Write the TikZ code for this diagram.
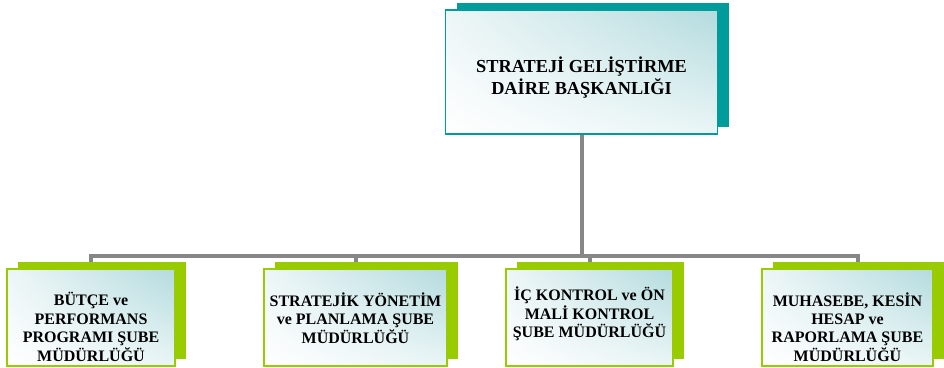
\documentclass[tikz,border=0pt]{standalone}
\usepackage{fontspec}
\setmainfont{Liberation Serif}
\usetikzlibrary{backgrounds,shadings}
\definecolor{tealc}{HTML}{009C9C}
\definecolor{greenc}{HTML}{99CC00}
\definecolor{linec}{HTML}{878787}
\definecolor{shadeUR}{HTML}{B3DBDE}
\definecolor{shadeUL}{HTML}{EDF6F7}
\definecolor{shadeLR}{HTML}{EAF5F6}
\begin{document}
\begin{tikzpicture}[x=1pt,y=-1pt,
  shadowbox/.style={draw=none,inner sep=0pt,minimum height=#1},
  frontbox/.style={line width=1.8pt,inner sep=0pt,minimum height=#1,
    upper right=shadeUR,upper left=shadeUL,lower left=white,lower right=shadeLR},
  conn/.style={draw=linec,line width=4pt},
  toptext/.style={align=center,font=\fontsize{18.3}{21.5}\selectfont\bfseries},
  subtext/.style={align=center,font=\fontsize{16}{18.4}\selectfont\bfseries}]
\useasboundingbox (0,0) rectangle (944,367);
% top box
\node[shadowbox=124pt,fill=tealc,minimum width=272pt] (tops) at (592.5,65) {};
\node[frontbox=124pt,draw=tealc,minimum width=272pt] (top) at (581.5,72) {};
\node[toptext] (toptxt) at (581.5,77.5) {STRATEJİ GELİŞTİRME\\DAİRE BAŞKANLIĞI};
% bottom boxes
\node[shadowbox=97pt,fill=greenc,minimum width=168pt] (b1s) at (102,310.5) {};
\node[frontbox=97pt,draw=greenc,minimum width=168pt] (b1) at (91,317.5) {};
\node[subtext] (b1t) at (91,327) {BÜTÇE ve\\PERFORMANS\\PROGRAMI ŞUBE\\MÜDÜRLÜĞÜ};
\node[shadowbox=97pt,fill=greenc,minimum width=183pt] (b2s) at (366.5,310.5) {};
\node[frontbox=97pt,draw=greenc,minimum width=183pt] (b2) at (355.5,317.5) {};
\node[subtext] (b2t) at (355.5,318) {STRATEJİK YÖNETİM\\ve PLANLAMA ŞUBE\\MÜDÜRLÜĞÜ};
\node[shadowbox=97pt,fill=greenc,minimum width=167pt] (b3s) at (600.5,310.5) {};
\node[frontbox=97pt,draw=greenc,minimum width=167pt] (b3) at (589.5,317.5) {};
\node[subtext] (b3t) at (589.5,314) {İÇ KONTROL ve ÖN\\MALİ KONTROL\\ŞUBE MÜDÜRLÜĞÜ};
\node[shadowbox=97pt,fill=greenc,minimum width=171pt] (b4s) at (858.5,310.5) {};
\node[frontbox=97pt,draw=greenc,minimum width=171pt] (b4) at (847.5,317.5) {};
\node[subtext] (b4t) at (847.5,327) {MUHASEBE, KESİN\\HESAP ve\\RAPORLAMA ŞUBE\\MÜDÜRLÜĞÜ};
% connectors
\begin{scope}[on background layer]
\coordinate (bus) at (582,255.5);
\draw[conn] (top.south) -- (top.south |- bus);
\draw[conn] (top.south |- bus) -| (b1.north);
\draw[conn] (top.south |- bus) -| (b2.north);
\draw[conn] (top.south |- bus) -| (b3.north);
\draw[conn] (top.south |- bus) -| ([xshift=10pt]b4.north);
\end{scope}
\end{tikzpicture}
\end{document}
